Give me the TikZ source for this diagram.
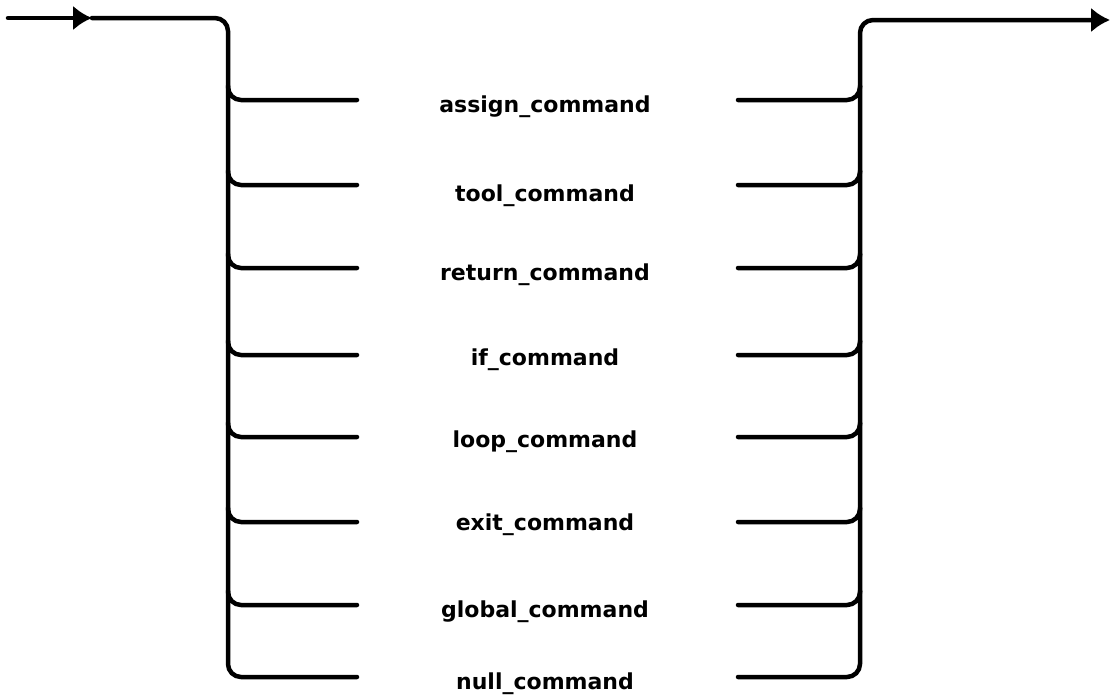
\documentclass[tikz,border=0pt]{standalone}
\usepackage{fontspec}
\setmainfont{DejaVu Sans}
\usetikzlibrary{arrows.meta}

\tikzset{
  rail/.style={line width=4.5pt,line cap=round,line join=round,rounded corners=13pt},
  railhead/.style={-{Latex[length=19pt,width=25pt]}},
  cmd/.style={anchor=base,inner sep=0pt,font=\fontsize{22.0}{26.4}\selectfont\bfseries}
}

\begin{document}
\begin{tikzpicture}[x=1pt,y=-1pt]
\path[use as bounding box] (0,0) rectangle (1112.0,694.0);
\coordinate (entry) at (8,18);
\coordinate (entryhead) at (92,18);
\coordinate (exit) at (1110,20);
% entry rail, left bus and last branch
\draw[rail,railhead] (entry) -- (entryhead);
\draw[rail] (entryhead) -- (228,18) -- (228,677) -- (357,677);
\draw[rail] (228,86) -- (228,100) -- (357,100);
\draw[rail] (228,171) -- (228,185) -- (357,185);
\draw[rail] (228,254) -- (228,268) -- (357,268);
\draw[rail] (228,341) -- (228,355) -- (357,355);
\draw[rail] (228,423) -- (228,437) -- (357,437);
\draw[rail] (228,508) -- (228,522) -- (357,522);
\draw[rail] (228,591) -- (228,605) -- (357,605);
% alternatives
\node[cmd] (assign) at (545,112) {assign\_command};
\node[cmd] (tool) at (545,201) {tool\_command};
\node[cmd] (return) at (545,280) {return\_command};
\node[cmd] (if) at (545,365) {if\_command};
\node[cmd] (loop) at (545,447) {loop\_command};
\node[cmd] (exitcmd) at (545,530) {exit\_command};
\node[cmd] (global) at (545,617) {global\_command};
\node[cmd] (null) at (545,689) {null\_command};
% right bus and exit rail
\draw[rail] (738,100) -- (860,100) -- (860,86);
\draw[rail] (738,185) -- (860,185) -- (860,171);
\draw[rail] (738,268) -- (860,268) -- (860,254);
\draw[rail] (738,355) -- (860,355) -- (860,341);
\draw[rail] (738,437) -- (860,437) -- (860,423);
\draw[rail] (738,522) -- (860,522) -- (860,508);
\draw[rail] (738,605) -- (860,605) -- (860,591);
\draw[rail,railhead] (738,677) -- (860,677) -- (860,20) -- (exit);
\end{tikzpicture}
\end{document}
